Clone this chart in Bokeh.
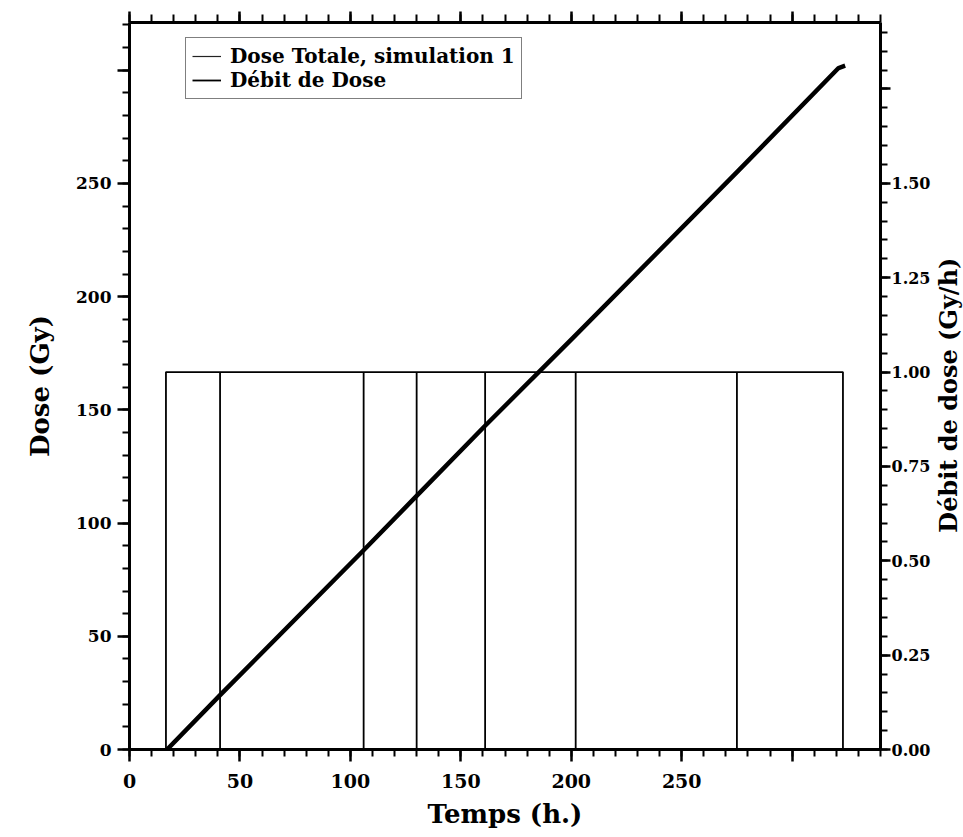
import math
from bokeh.plotting import figure
from bokeh.layouts import row
from bokeh.models import Range1d, LinearAxis, SingleIntervalTicker, Legend, LegendItem, Label
from bokeh.embed import file_html
from bokeh.resources import INLINE

# ---- data ----
time_h = [17, 41, 106, 130, 161, 202, 275, 321, 324]
dose_gy = [0, 24, 88, 112, 143, 183, 255, 301, 302]

rate_switch_h = [16.5, 41, 106, 130, 161, 202, 275, 323]
rate_level = 1.0  # Gy/h

x_limits = (0, 340)
dose_limits = (0, 321.1)
rate_limits = (0, 1.926)

x_label_hidden = {300: ""}
dose_label_hidden = {300: ""}
rate_label_hidden = {1.75: ""}

legend_labels = ["Dose Totale, simulation 1", "Débit de Dose"]
rate_axis_title = "Débit de dose (Gy/h)"

FONT = "DejaVu Serif"
NAN = float("nan")

# build step path for dose rate
rx, ry = [rate_switch_h[0], rate_switch_h[0]], [0, rate_level]
for t in rate_switch_h[1:-1]:
    rx += [t, t, t]
    ry += [rate_level, 0, rate_level]
rx += [rate_switch_h[-1], rate_switch_h[-1]]
ry += [rate_level, 0]

W, H = 963, 837
SIDE_W = 30  # strip at the right that carries the right-axis title
FRAME_L, FRAME_R, FRAME_T, FRAME_B = 129, 882, 22, 749
MAIN_W = W - SIDE_W

p = figure(width=MAIN_W, height=H, output_backend="svg", toolbar_location=None,
           x_range=Range1d(*x_limits), y_range=Range1d(*dose_limits),
           min_border_left=FRAME_L, min_border_right=MAIN_W - FRAME_R,
           min_border_top=FRAME_T, min_border_bottom=H - FRAME_B)
p.extra_y_ranges = {"rate": Range1d(*rate_limits)}
p.xgrid.visible = False
p.ygrid.visible = False
p.outline_line_color = None
p.background_fill_color = "white"
p.border_fill_color = "white"


def style_axis(ax, tick_font_size, major_out=12, minor_out=7, standoff=6):
    ax.axis_line_width = 3
    ax.axis_line_color = "black"
    ax.major_tick_line_width = 2.5
    ax.minor_tick_line_width = 2
    ax.major_tick_in = 0
    ax.minor_tick_in = 0
    ax.major_tick_out = major_out
    ax.minor_tick_out = minor_out
    ax.major_label_text_font = FONT
    ax.major_label_text_font_style = "bold"
    ax.major_label_text_font_size = tick_font_size
    ax.major_label_text_color = "black"
    ax.major_label_standoff = standoff
    ax.axis_label_text_font = FONT
    ax.axis_label_text_font_style = "bold"
    ax.axis_label_text_color = "black"


# bottom axis
xa = p.xaxis[0]
xa.ticker = SingleIntervalTicker(interval=50, num_minor_ticks=5)
xa.major_label_overrides = x_label_hidden
style_axis(xa, "19px", standoff=12)
xa.axis_label = "Temps (h.)"
xa.axis_label_text_font_size = "26px"
xa.axis_label_standoff = 8

# left axis
ya = p.yaxis[0]
ya.ticker = SingleIntervalTicker(interval=50, num_minor_ticks=5)
ya.major_label_overrides = dose_label_hidden
style_axis(ya, "17px", standoff=6)
ya.axis_label = "Dose (Gy)"
ya.axis_label_text_font_size = "26px"
ya.axis_label_standoff = 18

# top axis (ticks only)
ta = LinearAxis(ticker=SingleIntervalTicker(interval=50, num_minor_ticks=5))
style_axis(ta, "0px", major_out=11, minor_out=8, standoff=0)
ta.major_label_text_color = None
ta.axis_label_standoff = 0
p.add_layout(ta, "above")

# right axis
ra = LinearAxis(y_range_name="rate", ticker=SingleIntervalTicker(interval=0.25, num_minor_ticks=5))
style_axis(ra, "16px", major_out=10, minor_out=7, standoff=1)
ra.major_label_overrides = {0.0: "0.00", 0.25: "0.25", 0.5: "0.50", 0.75: "0.75",
                            1.0: "1.00", 1.25: "1.25", 1.5: "1.50", **rate_label_hidden}
ra.axis_label_standoff = 0
p.add_layout(ra, "right")

# data renderers
rate_r = p.line(rx, ry, y_range_name="rate", line_color="black", line_width=1.8)
dose_r = p.line(time_h, dose_gy, line_color="black", line_width=4.5, line_join="round")

# legend proxies (thin samples as in the reference)
dose_proxy = p.line([NAN], [NAN], line_color="#222222", line_width=1.2)
rate_proxy = p.line([NAN], [NAN], line_color="black", line_width=1.8)

legend = Legend(items=[LegendItem(label=legend_labels[0], renderers=[dose_proxy]),
                       LegendItem(label=legend_labels[1], renderers=[rate_proxy])],
                location=(56, 650))
legend.label_text_font = FONT
legend.label_text_font_style = "bold"
legend.label_text_font_size = "20px"
legend.label_text_color = "black"
legend.label_height = 20
legend.glyph_height = 20
legend.glyph_width = 29
legend.label_standoff = 9
legend.spacing = 0
legend.padding = 6
legend.margin = 0
legend.border_line_color = "black"
legend.border_line_width = 1.5
legend.background_fill_color = "white"
legend.background_fill_alpha = 1.0
p.add_layout(legend, "center")

# side strip holding the right-axis title, reading upward as in the reference
side = figure(width=SIDE_W, height=H, output_backend="svg", toolbar_location=None,
              x_range=Range1d(0, 1), y_range=Range1d(0, H), x_axis_type=None, y_axis_type=None,
              min_border=0)
side.grid.visible = False
side.outline_line_color = None
side.background_fill_color = "white"
side.border_fill_color = "white"
side.add_layout(Label(x=0.5, y=H - 429, text=rate_axis_title, angle=math.pi / 2,
                      text_align="center", text_baseline="middle",
                      text_font=FONT, text_font_style="bold", text_font_size="24px",
                      text_color="black"))

layout = row(p, side, spacing=0)
open("out.html", "w").write(file_html(layout, INLINE))
